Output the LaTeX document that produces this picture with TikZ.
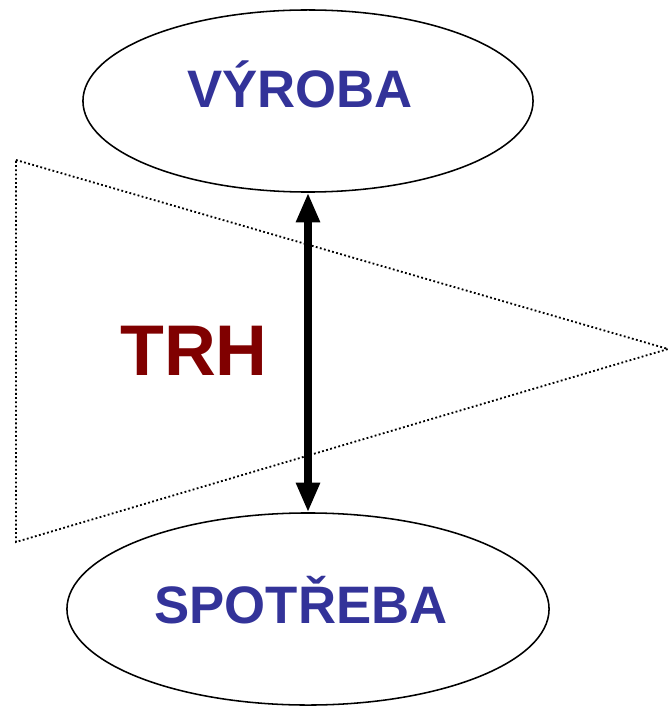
\documentclass[tikz,border=0pt]{standalone}
\usepackage{fontspec}
\setmainfont{Liberation Sans}
\usetikzlibrary{shapes.geometric,arrows.meta}
\definecolor{trhblue}{RGB}{51,51,153}
\definecolor{trhred}{RGB}{128,0,0}
\begin{document}
\begin{tikzpicture}[x=0.025cm,y=-0.025cm,
	oval/.style={draw, ellipse, line width=1.1pt, inner sep=0pt},
	label/.style={anchor=base, font=\bfseries\fontsize{37.5}{44}\selectfont, text=trhblue}]
	\useasboundingbox (0,0) rectangle (670,708);
	
	\coordinate (topleft) at (16,160);
	\coordinate (botleft) at (16,542);
	\coordinate (tip) at (668,349);
	\draw[line width=1.3pt, dash pattern=on 1.3pt off 1.7pt] (topleft) -- (tip) -- (botleft) -- cycle;
	
	\node[oval, minimum width=11.25cm, minimum height=4.55cm] (vyroba) at (308,101) {};
	\node[oval, minimum width=12.05cm, minimum height=4.8cm] (spotreba) at (308,609) {};
	\node[label] (vyrobatext) at (300,108) {VÝROBA};
	\node[label] (spotrebatext) at (301,623) {SPOTŘEBA};
	\node[anchor=base, font=\bfseries\fontsize{51}{60}\selectfont, text=trhred] (trh) at (194,375) {TRH};
	
	\draw[{Triangle[length=21pt,width=16pt]}-{Triangle[length=21pt,width=16pt]}, line width=5pt] (vyroba.south) -- (spotreba.north);
	
\end{tikzpicture}
\end{document}
